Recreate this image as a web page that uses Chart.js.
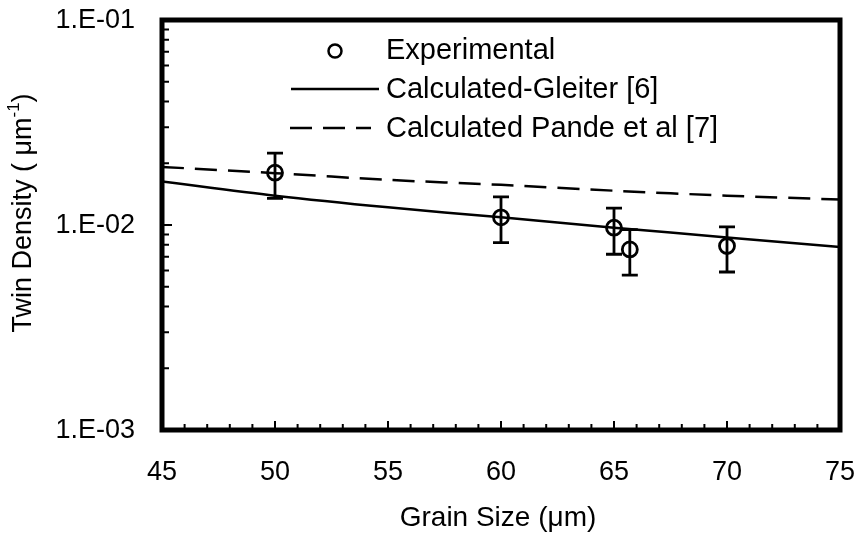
<!DOCTYPE html>
<html>
<head>
<meta charset="utf-8">
<title>Twin density vs grain size</title>
<script src="https://cdn.jsdelivr.net/npm/chart.js@4.4.1/dist/chart.umd.min.js"></script>
<style>
  html, body { margin: 0; padding: 0; background: #fff; }
  #wrap { width: 864px; height: 536px; }
</style>
</head>
<body>
<div id="wrap"><canvas id="twinChart" width="864" height="536"></canvas></div>
<script>
// measured twin density with error bar limits
const grainSize = [50, 60, 65, 65.7, 70];
const twinDensity = [0.0180, 0.0109, 0.0097, 0.0076, 0.0079];
const errLow = [0.0135, 0.0082, 0.0072, 0.0057, 0.0059];
const errHigh = [0.0224, 0.0137, 0.0121, 0.0095, 0.0098];

// model curves
const curveX = [45, 50, 55, 60, 65, 70, 75];
const gleiter = [0.0163, 0.0139, 0.0122, 0.0109, 0.0097, 0.0087, 0.0078];
const pande = [0.0192, 0.0179, 0.0166, 0.0157, 0.0147, 0.0139, 0.0133];

const xTicks = [45, 50, 55, 60, 65, 70, 75];
const yTicks = [0.001, 0.01, 0.1];
const yTickLabels = ['1.E-03', '1.E-02', '1.E-01'];

const FONT = "'Liberation Sans', Arial, Helvetica, sans-serif";
const DASH = [22, 11];

function pts(xs, ys) {
  return xs.map((v, i) => ({ x: v, y: ys[i] }));
}

// error bars, inward ticks, tick labels, frame, axis titles and legend
const decorations = {
  id: 'decorations',
  afterDatasetsDraw(chart) {
    const { ctx, chartArea: a, scales: { x, y } } = chart;
    ctx.save();
    ctx.strokeStyle = '#000';
    ctx.fillStyle = '#000';

    ctx.lineWidth = 2.8;
    grainSize.forEach((g, i) => {
      const px = x.getPixelForValue(g);
      const top = y.getPixelForValue(errHigh[i]);
      const bot = y.getPixelForValue(errLow[i]);
      ctx.beginPath();
      ctx.moveTo(px, top); ctx.lineTo(px, bot);
      ctx.moveTo(px - 8, top); ctx.lineTo(px + 8, top);
      ctx.moveTo(px - 8, bot); ctx.lineTo(px + 8, bot);
      ctx.stroke();
    });

    // ticks point into the plot
    ctx.lineWidth = 2;
    ctx.beginPath();
    for (let v = 45; v <= 75; v++) {
      const px = x.getPixelForValue(v);
      const len = v % 5 === 0 ? 9 : 6;
      ctx.moveTo(px, a.bottom); ctx.lineTo(px, a.bottom - len);
    }
    [0.001, 0.01].forEach(dec => {
      for (let m = 1; m <= 9; m++) {
        const py = y.getPixelForValue(m * dec);
        const len = m === 1 ? 10 : 7;
        ctx.moveTo(a.left, py); ctx.lineTo(a.left + len, py);
      }
    });
    ctx.stroke();

    ctx.lineWidth = 5;
    ctx.strokeRect(a.left, a.top, a.width, a.height);

    // tick labels
    ctx.font = '27px ' + FONT;
    ctx.textBaseline = 'middle';
    ctx.textAlign = 'center';
    xTicks.forEach(v => ctx.fillText(String(v), x.getPixelForValue(v), a.bottom + 43));
    ctx.textAlign = 'right';
    yTicks.forEach((v, i) => ctx.fillText(yTickLabels[i], a.left - 27, y.getPixelForValue(v) + 1));

    // axis titles
    ctx.font = '28px ' + FONT;
    ctx.textAlign = 'center';
    ctx.fillText('Grain Size (\u03bcm)', 498, 518);

    ctx.save();
    ctx.translate(24, 213);
    ctx.rotate(-Math.PI / 2);
    ctx.textAlign = 'left';
    const main = 'Twin Density ( \u03bcm';
    const sup = '-1';
    const close = ')';
    ctx.font = '27px ' + FONT;
    const wMain = ctx.measureText(main).width;
    const wClose = ctx.measureText(close).width;
    ctx.font = '17px ' + FONT;
    const wSup = ctx.measureText(sup).width;
    const sx = -(wMain + wSup + wClose) / 2;
    ctx.font = '27px ' + FONT;
    ctx.fillText(main, sx, 0);
    ctx.font = '17px ' + FONT;
    ctx.fillText(sup, sx + wMain, -10);
    ctx.font = '27px ' + FONT;
    ctx.fillText(close, sx + wMain + wSup, 0);
    ctx.restore();

    // legend
    ctx.font = '29px ' + FONT;
    ctx.textAlign = 'left';
    ctx.lineWidth = 2.5;
    ctx.beginPath();
    ctx.arc(335, 51, 6.5, 0, Math.PI * 2);
    ctx.stroke();
    ctx.fillText('Experimental', 386, 51);

    ctx.beginPath();
    ctx.moveTo(291, 89); ctx.lineTo(379, 89);
    ctx.stroke();
    ctx.fillText('Calculated-Gleiter [6]', 386, 90);

    ctx.setLineDash(DASH);
    ctx.beginPath();
    ctx.moveTo(290, 128); ctx.lineTo(371, 128);
    ctx.stroke();
    ctx.setLineDash([]);
    ctx.fillText('Calculated Pande et al [7]', 386, 129);

    ctx.restore();
  }
};

const chart = new Chart(document.getElementById('twinChart'), {
  type: 'scatter',
  data: {
    datasets: [
      {
        label: 'Calculated-Gleiter [6]',
        data: pts(curveX, gleiter),
        showLine: true,
        borderColor: '#000',
        borderWidth: 2.5,
        pointRadius: 0,
        tension: 0.3
      },
      {
        label: 'Calculated Pande et al [7]',
        data: pts(curveX, pande),
        showLine: true,
        borderColor: '#000',
        borderWidth: 2.5,
        borderDash: DASH,
        pointRadius: 0,
        tension: 0.3
      },
      {
        label: 'Experimental',
        data: pts(grainSize, twinDensity),
        pointStyle: 'circle',
        pointRadius: 7.5,
        borderWidth: 2.8,
        borderColor: '#000',
        backgroundColor: 'rgba(0,0,0,0)'
      }
    ]
  },
  options: {
    responsive: false,
    animation: false,
    devicePixelRatio: 1,
    layout: { padding: { top: 20, right: 24, left: 0, bottom: 0 } },
    plugins: {
      legend: { display: false },
      tooltip: { enabled: false }
    },
    scales: {
      x: {
        type: 'linear',
        min: 45,
        max: 75,
        afterFit: s => { s.height = 106; },
        grid: { display: false, drawTicks: false },
        border: { display: false },
        ticks: { display: false }
      },
      y: {
        type: 'logarithmic',
        min: 0.001,
        max: 0.1,
        afterFit: s => { s.width = 162; },
        grid: { display: false, drawTicks: false },
        border: { display: false },
        ticks: { display: false }
      }
    }
  },
  plugins: [decorations]
});
</script>
</body>
</html>
